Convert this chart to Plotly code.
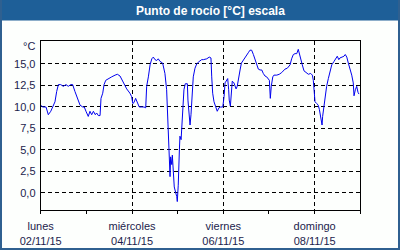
import plotly.graph_objects as go

# hours since 02/11/15 00:00
hours = [0, 1.1, 2.8, 4.0, 5.3, 6.3, 7.5, 8.4, 9.3, 10.5, 11.9, 13.3, 14.5, 15.8, 16.8, 18.0,
         19.2, 20.7, 22.1, 22.9, 23.8, 25.0, 25.9, 26.8, 27.7, 28.7, 29.4, 30.3, 31.2, 31.7,
         32.6, 33.3, 34.2, 35.5, 37.3, 39.1, 40.3, 41.7, 42.6, 43.4, 45.2, 46.9, 47.8, 48.4,
         49.0, 49.9, 50.8, 51.8, 53.1, 54.3, 55.2, 55.7, 56.6, 57.5, 58.4, 59.2, 60.1, 61.0,
         61.8, 62.7, 64.1, 65.3, 66.2, 67.1, 67.6, 68.0, 68.3, 68.9, 69.2, 69.7, 70.2, 71.0,
         71.5, 71.8, 72.3, 72.9, 73.2, 73.8, 74.1, 74.6, 75.3, 76.0, 77.1, 77.4, 78.0, 78.5,
         79.0, 79.5, 80.2, 81.1, 82.0, 82.8, 84.6, 85.5, 87.3, 88.6, 89.5, 89.9, 90.4, 91.1,
         92.2, 92.8, 93.7, 94.6, 95.7, 96.4, 96.9, 97.4, 97.8, 98.3, 98.8, 99.1, 99.7, 100.2,
         100.7, 101.6, 102.3, 102.7, 103.3, 103.9, 104.8, 105.5, 106.5, 107.9, 109.1, 110.0,
         110.9, 111.8, 112.7, 113.5, 114.4, 115.3, 116.2, 117.0, 117.9, 118.8, 119.6, 120.2,
         120.7, 121.2, 122.0, 122.6, 124.1, 125.4, 126.7, 127.2, 128.4, 129.6, 131.1, 131.9,
         132.8, 133.7, 134.6, 135.4, 135.9, 136.7, 137.5, 138.4, 139.8, 140.7, 141.9, 142.8,
         143.3, 143.8, 144.2, 145.1, 145.9, 146.5, 147.2, 147.9, 148.2, 148.8, 149.4, 150.3,
         151.2, 152.1, 153.0, 154.2, 155.2, 155.9, 156.7, 157.3, 158.4, 159.4, 160.1, 160.9,
         161.7, 162.6, 163.5, 164.3, 164.7, 165.4, 166.1, 166.8, 167.3]
dew = [10.2, 10.0, 10.0, 9.1, 9.5, 10.1, 10.6, 11.8, 12.6, 12.6, 12.4, 12.6, 12.4, 12.6, 12.6, 11.8,
       11.0, 10.2, 10.0, 10.0, 9.5, 8.9, 9.5, 9.1, 9.5, 9.1, 9.3, 9.0, 9.0, 11.0,
       11.6, 12.6, 13.1, 13.3, 13.5, 13.7, 13.8, 13.6, 13.2, 12.8, 12.1, 11.6, 11.2, 10.4,
       10.5, 11.0, 10.4, 10.0, 10.0, 10.0, 9.9, 12.4, 13.5, 14.9, 15.6, 15.8, 15.5, 15.4,
       15.6, 15.3, 15.1, 13.9, 12.0, 7.7, 4.2, 1.9, 4.2, 3.3, 4.4, 1.9, 0.7, 0.0,
       -0.4, -1.0, 0.9, 5.0, 6.6, 6.2, 7.5, 10.6, 12.0, 12.7, 12.7, 10.8, 9.3, 7.9,
       9.1, 11.6, 13.5, 14.5, 15.0, 15.2, 15.5, 15.5, 15.6, 15.8, 15.7, 13.5, 11.6, 10.6,
       10.0, 9.5, 9.9, 10.0, 10.0, 11.2, 12.8, 13.0, 13.2, 13.3, 12.0, 10.8, 10.1, 11.6,
       13.0, 12.8, 12.4, 12.1, 12.4, 13.3, 14.3, 15.1, 15.4, 15.9, 16.3, 16.6,
       16.6, 16.1, 15.5, 14.9, 14.4, 14.3, 14.3, 13.9, 13.6, 13.5, 13.2, 13.1,
       11.0, 12.4, 13.5, 13.7, 13.7, 13.8, 14.0, 14.1, 14.4, 14.5, 14.9, 15.6,
       16.1, 16.2, 16.2, 16.7, 16.2, 15.5, 14.9, 14.2, 13.9, 13.8, 13.9, 13.7,
       13.1, 12.0, 10.6, 10.4, 10.2, 9.7, 8.9, 7.9, 8.9, 10.0, 11.2, 12.4,
       13.3, 14.3, 14.9, 15.3, 15.7, 15.9, 15.5, 15.7, 15.8, 15.9, 16.1, 15.8,
       15.1, 14.5, 13.7, 12.8, 11.3, 12.0, 12.4, 11.7, 11.5]

x_major = [0, 48, 96, 144]
x_labels = ["lunes<br>02/11/15", "miércoles<br>04/11/15", "viernes<br>06/11/15", "domingo<br>08/11/15"]
y_ticks = [0, 2.5, 5, 7.5, 10, 12.5, 15]
y_labels = ["0,0", "2,5", "5,0", "7,5", "10,0", "12,5", "15,0"]

title = "Punto de rocío [°C] escala"
font_col = "#1c1c4c"
fnt = dict(family="Liberation Sans", size=11, color=font_col)

fig = go.Figure()
fig.add_trace(go.Scatter(x=hours, y=dew, mode="lines",
                         line=dict(color="#0000ee", width=1), hoverinfo="skip"))

W, H = 400, 250
fig.update_layout(
    width=W, height=H, margin=dict(l=0, r=0, t=0, b=0),
    paper_bgcolor="#fdfffd", plot_bgcolor="#fdfffd",
    showlegend=False,
    xaxis=dict(domain=[40.7 / W, 360.3 / W], range=[0, 168],
               tickmode="array", tickvals=x_major, ticktext=x_labels,
               ticks="outside", ticklen=3, tickcolor="black",
               minor=dict(dtick=24, tick0=0, ticks="outside", ticklen=3, tickcolor="black", showgrid=False),
               showgrid=True, gridcolor="black", gridwidth=1, griddash="4px,3px",
               showline=True, linecolor="black", linewidth=1, mirror=True,
               zeroline=False, tickfont=fnt, automargin=False, fixedrange=True,
               ticklabelstandoff=3),
    yaxis=dict(domain=[(H - 210) / H, (H - 41) / H], range=[-1.98, 17.67],
               tickmode="array", tickvals=y_ticks, ticktext=y_labels,
               ticks="", showgrid=True, gridcolor="black", gridwidth=1, griddash="4px,3px",
               showline=True, linecolor="black", linewidth=1, mirror=True,
               zeroline=False, tickfont=fnt, automargin=False, fixedrange=True,
               ticklabelstandoff=2),
    shapes=[
        dict(type="rect", xref="paper", yref="paper", x0=0, x1=1, y0=(H - 20.5) / H, y1=1,
             fillcolor="#1e5f98", line=dict(width=0), layer="above"),
        dict(type="rect", xref="paper", yref="paper", x0=0, x1=2 / W, y0=0, y1=1,
             fillcolor="#2f6090", line=dict(width=0)),
        dict(type="rect", xref="paper", yref="paper", x0=(W - 2) / W, x1=1, y0=0, y1=1,
             fillcolor="#2f6090", line=dict(width=0)),
        dict(type="rect", xref="paper", yref="paper", x0=0, x1=1, y0=0, y1=2 / H,
             fillcolor="#2f6090", line=dict(width=0)),
    ],
    annotations=[
        dict(text="<b>" + title + "</b>", xref="paper", yref="paper", x=210 / W, y=(H - 10.5) / H,
             xanchor="center", yanchor="middle", showarrow=False,
             font=dict(family="Liberation Sans", size=12, color="white")),
        dict(text="°C", xref="paper", yref="paper", x=36.5 / W, y=(H - 46) / H,
             xanchor="right", yanchor="middle", showarrow=False, font=fnt),
    ],
)

fig.write_html("out.html", config={"displayModeBar": False})
